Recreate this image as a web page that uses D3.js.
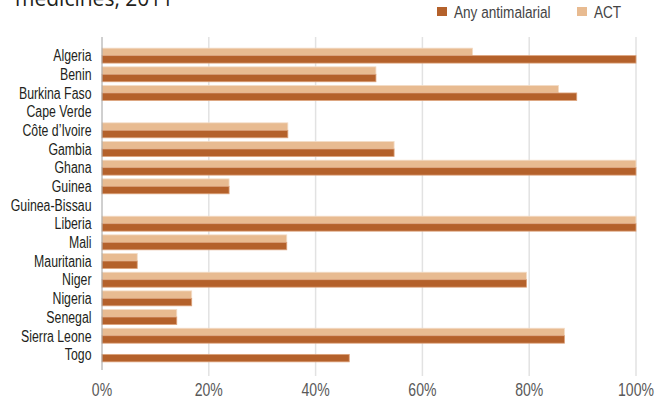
<!DOCTYPE html>
<html>
<head>
<meta charset="utf-8">
<script src="https://cdn.jsdelivr.net/npm/d3@7"></script>
<style>
  html, body { margin: 0; padding: 0; background: #fff; }
  svg { display: block; }
</style>
</head>
<body>
<svg id="chart" width="670" height="399"></svg>
<script>
const countries = ["Algeria", "Benin", "Burkina Faso", "Cape Verde", "Côte d’Ivoire", "Gambia", "Ghana", "Guinea", "Guinea-Bissau", "Liberia", "Mali", "Mauritania", "Niger", "Nigeria", "Senegal", "Sierra Leone", "Togo"];
const anyAntimalarial = [100, 51.3, 88.9, null, 34.8, 54.7, 100, 23.8, null, 100, 34.6, 6.6, 79.5, 16.8, 14.0, 86.6, 46.3];
const act = [69.4, 51.3, 85.5, null, 34.8, 54.7, 100, 23.8, null, 100, 34.6, 6.6, 79.5, 16.8, 14.0, 86.6, null];
const seriesNames = ["ACT", "Any antimalarial"];
const legendNames = ["Any antimalarial", "ACT"];
const tickValues = [0, 20, 40, 60, 80, 100];
const tickLabels = ["0%", "20%", "40%", "60%", "80%", "100%"];
const titleText = "medicines, 2011";

const colors = { "Any antimalarial": "#b4612b", "ACT": "#e8bb91" };
const condensed = "'Liberation Sans', Arial, sans-serif";

const svg = d3.select("#chart");

const x = d3.scaleLinear().domain([0, 100]).range([102, 636]);
const y = d3.scaleBand().domain(countries).range([39, 371]).paddingInner(0.2).paddingOuter(0.49);
const ySub = d3.scaleBand().domain(seriesNames).range([0, y.bandwidth()]).padding(0);

// title (cut off at top in the reference)
svg.append("text")
  .attr("x", 15).attr("y", 6)
  .attr("font-family", "'Open Sans', sans-serif")
  .attr("font-size", 21)
  .attr("fill", "#231f20")
  .text(titleText);

// gridlines
svg.append("g").selectAll("line")
  .data(tickValues.filter(d => d > 0))
  .join("line")
  .attr("x1", d => x(d)).attr("x2", d => x(d))
  .attr("y1", 37).attr("y2", 376)
  .attr("stroke", "#e2e2e2").attr("stroke-width", 1.5);

// bars
const rows = countries.map((c, i) => ({ country: c, values: { "ACT": act[i], "Any antimalarial": anyAntimalarial[i] } }));
const g = svg.append("g");
rows.forEach(r => {
  seriesNames.forEach(s => {
    const v = r.values[s];
    if (v == null) return;
    g.append("rect")
      .attr("x", x(0))
      .attr("y", y(r.country) + ySub(s))
      .attr("width", x(v) - x(0))
      .attr("height", ySub.bandwidth())
      .attr("fill", colors[s])
      .attr("stroke", s === "ACT" ? "#f3dcc6" : "#dca27b")
      .attr("stroke-width", 0.8);
  });
});

// y axis line
svg.append("line")
  .attr("x1", x(0)).attr("x2", x(0))
  .attr("y1", 37).attr("y2", 370)
  .attr("stroke", "#a0a0a0").attr("stroke-width", 1);

// category labels (horizontally condensed to mimic a condensed face)
svg.append("g").selectAll("text")
  .data(countries)
  .join("text")
  .attr("transform", d => `translate(91.5,${y(d) + y.bandwidth() / 2 + 5.8}) scale(0.77,1)`)
  .attr("text-anchor", "end")
  .attr("font-family", condensed)
  .attr("font-size", 16)
  .attr("fill", "#231f20")
  .text(d => d);

// x tick labels
svg.append("g").selectAll("text")
  .data(tickValues)
  .join("text")
  .attr("transform", d => `translate(${x(d)},395.5) scale(0.78,1)`)
  .attr("text-anchor", "middle")
  .attr("font-family", condensed)
  .attr("font-size", 18)
  .attr("fill", "#595959")
  .text((d, i) => tickLabels[i]);

// legend
const legendX = [437, 577];
const lg = svg.append("g");
legendNames.forEach((n, i) => {
  lg.append("rect")
    .attr("x", legendX[i]).attr("y", 7)
    .attr("width", 10).attr("height", 9)
    .attr("fill", colors[n]);
  lg.append("text")
    .attr("transform", `translate(${legendX[i] + 17},17.5) scale(0.8,1)`)
    .attr("font-family", condensed)
    .attr("font-size", 17)
    .attr("fill", "#444")
    .text(n);
});
</script>
</body>
</html>
